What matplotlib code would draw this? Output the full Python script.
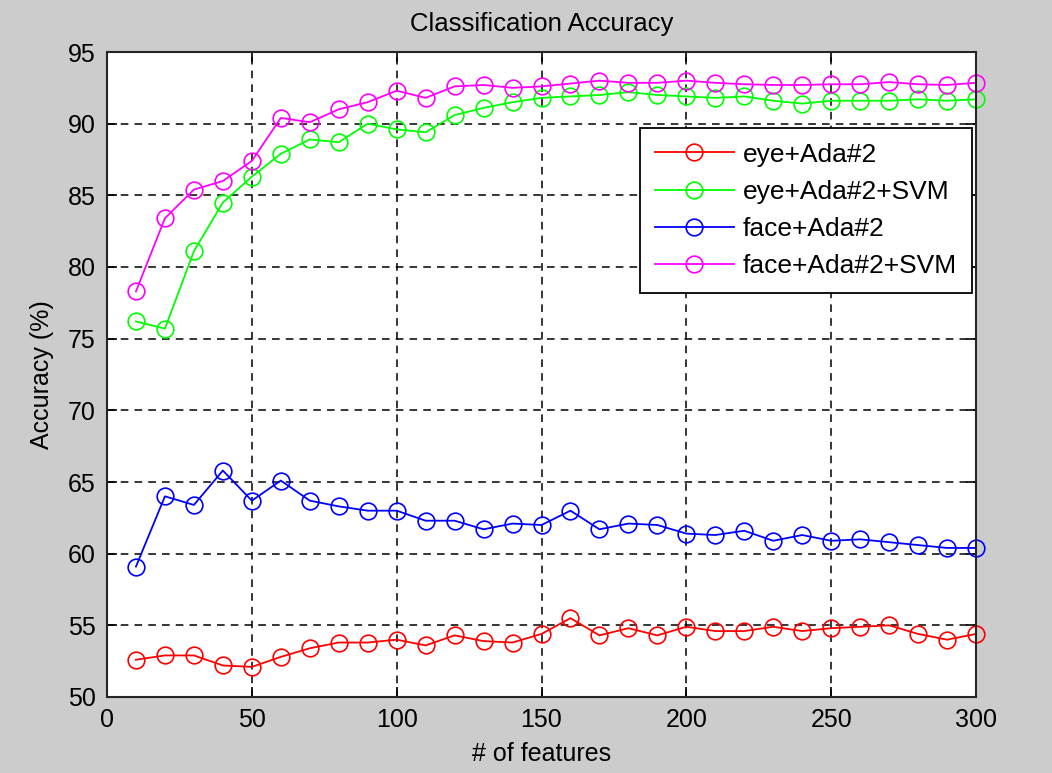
import matplotlib
matplotlib.use('Agg')
import matplotlib.pyplot as plt
import numpy as np
from matplotlib import rcParams

rcParams['font.family'] = ['Liberation Sans', 'DejaVu Sans']

# data
n_features = list(range(10, 301, 10))

eye_ada = [52.6, 52.9, 52.9, 52.2, 52.1, 52.8, 53.4, 53.8, 53.8, 54.0,
           53.6, 54.3, 53.9, 53.8, 54.4, 55.5, 54.3, 54.8, 54.3, 54.9,
           54.6, 54.6, 54.9, 54.6, 54.8, 54.9, 55.0, 54.4, 54.0, 54.4]

eye_ada_svm = [76.2, 75.7, 81.1, 84.5, 86.3, 87.9, 88.9, 88.7, 90.0, 89.6,
               89.4, 90.6, 91.1, 91.5, 91.8, 91.9, 92.0, 92.2, 92.0, 91.9,
               91.8, 91.9, 91.6, 91.4, 91.6, 91.6, 91.6, 91.7, 91.6, 91.7]

face_ada = [59.1, 64.0, 63.4, 65.8, 63.7, 65.1, 63.7, 63.3, 63.0, 63.0,
            62.3, 62.3, 61.7, 62.1, 62.0, 63.0, 61.7, 62.1, 62.0, 61.4,
            61.3, 61.6, 60.9, 61.3, 60.9, 61.0, 60.8, 60.6, 60.4, 60.4]

face_ada_svm = [78.3, 83.4, 85.4, 86.0, 87.4, 90.4, 90.1, 91.0, 91.5, 92.3,
                91.8, 92.6, 92.7, 92.5, 92.6, 92.8, 93.0, 92.85, 92.85, 93.0,
                92.85, 92.75, 92.7, 92.7, 92.75, 92.75, 92.9, 92.75, 92.7, 92.85]

series = [('eye+Ada#2', eye_ada, '#ff0000'),
          ('eye+Ada#2+SVM', eye_ada_svm, '#00ff00'),
          ('face+Ada#2', face_ada, '#0000ff'),
          ('face+Ada#2+SVM', face_ada_svm, '#ff00ff')]

fig = plt.figure(figsize=(10.52, 7.73), dpi=100, facecolor='#cccccc')
ax = fig.add_axes([107/1052, 1 - 697/773, (976 - 107)/1052, (697 - 52)/773])

for name, vals, col in series:
    ax.plot(n_features, vals, '-o', color=col, lw=1.3, ms=12,
            mfc='none', mec=col, mew=1.2, label=name, clip_on=False)

ax.set_xlim(0, 300)
ax.set_ylim(50, 95)
ax.set_xticks(np.arange(0, 301, 50))
ax.set_yticks(np.arange(50, 96, 5))

ax.grid(True, color='black', linestyle=(0, (5, 4)), linewidth=1.1)
ax.tick_params(direction='in', length=7, width=1.2, top=True, right=True,
               labelsize=18, pad=8)
for s in ax.spines.values():
    s.set_linewidth(1.5)
    s.set_color('#262626')

ax.set_title('Classification Accuracy', fontsize=18.5, pad=15)
ax.set_xlabel('# of features', fontsize=18, labelpad=7)
ax.set_ylabel('Accuracy (%)', fontsize=18, labelpad=10)

leg = ax.legend(loc='upper right', bbox_to_anchor=(0.995, 0.882), fontsize=19,
                fancybox=False, edgecolor='black', framealpha=1,
                handlelength=3.0, handletextpad=0.35, borderpad=0.55,
                labelspacing=0.5, borderaxespad=0)
leg.get_frame().set_linewidth(1.3)

fig.savefig('out.png', dpi=100, facecolor=fig.get_facecolor())
